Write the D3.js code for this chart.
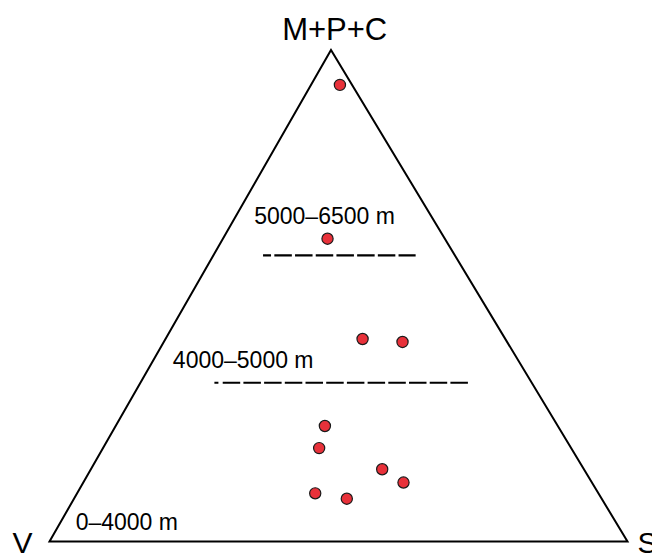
<!DOCTYPE html>
<html>
<head>
<meta charset="utf-8">
<script src="https://cdn.jsdelivr.net/npm/d3@7"></script>
<style>
  html, body { margin: 0; padding: 0; background: #ffffff; }
  svg { display: block; }
  text { font-family: "Liberation Sans", Arial, Helvetica, sans-serif; fill: #000; }
</style>
</head>
<body>
<script>
// ---- Data (ternary compositions, %) ----
const sampleV   = [2.1, 20.3, 24.7, 18.1, 40.3, 43.6, 34.9, 32.6, 49.0, 44.1];
const sampleS   = [5.0, 18.1, 34.1, 41.3, 36.2, 37.4, 50.4, 55.4, 41.2, 47.2];
const sampleMPC = [92.9, 61.6, 41.2, 40.6, 23.5, 19.0, 14.7, 12.0, 9.8, 8.7];

const apexLabels = ["V", "S", "M+P+C"];

// zone boundary lines: MPC level (%) and S extent (%) of each end
const boundaryMPC    = [58.2, 32.3];
const boundaryStartS = [8.6, 12.8];
const boundaryEndS   = [35.0, 56.8];

// zone labels with anchor composition (S %, MPC %)
const zoneLabels = ["5000–6500 m", "4000–5000 m", "0–4000 m"];
const zoneLabelS   = [4.0, 4.2, 3.4];
const zoneLabelMPC = [64.5, 35.2, 2.3];

// ---- Layout ----
const W = 652, H = 556;
const svg = d3.select("body").append("svg").attr("width", W).attr("height", H);

const padL = 49.5, padR = 627.5, baseY = 541.5, apexY = 50, apexX = 331;
const sScale = d3.scaleLinear().domain([0, 100]).range([padL, padR]);
const mScale = d3.scaleLinear().domain([0, 100]).range([baseY, apexY]);
const apexShift = (apexX - padL) / (padR - padL); // horizontal lean of apex

function project(s, m) {
  return [sScale(s + m * apexShift), mScale(m)];
}

// ---- Triangle ----
const corners = [project(0, 0), project(100, 0), project(0, 100)];
svg.append("path")
  .attr("d", d3.line()(corners) + "Z")
  .attr("fill", "none")
  .attr("stroke", "#000")
  .attr("stroke-width", 2)
  .attr("stroke-linejoin", "miter");

// ---- Zone boundaries ----
const firstDash = [[8, 3.3], [4, 4.3]];
boundaryMPC.forEach((m, i) => {
  const p0 = project(boundaryStartS[i], m);
  const p1 = project(boundaryEndS[i], m);
  const pattern = firstDash[i].slice();
  for (let k = 0; k < 20; k++) pattern.push(17.5, 3.2);
  svg.append("line")
    .attr("x1", p0[0]).attr("y1", p0[1])
    .attr("x2", p1[0]).attr("y2", p1[1])
    .attr("stroke", "#000")
    .attr("stroke-width", 2.2)
    .attr("stroke-dasharray", pattern.join(","));
});

// ---- Zone labels ----
zoneLabels.forEach((t, i) => {
  const p = project(zoneLabelS[i], zoneLabelMPC[i]);
  svg.append("text")
    .attr("x", p[0]).attr("y", p[1])
    .attr("font-size", 23)
    .text(t);
});

// ---- Apex labels ----
const vP = project(0, 0), sP = project(100, 0), mP = project(0, 100);
svg.append("text").attr("x", vP[0] - 17).attr("y", vP[1] + 11.5)
  .attr("text-anchor", "end").attr("font-size", 30).text(apexLabels[0]);
svg.append("text").attr("x", sP[0] + 10).attr("y", sP[1] + 11.5)
  .attr("text-anchor", "start").attr("font-size", 30).text(apexLabels[1]);
svg.append("text").attr("x", mP[0] + 3.7).attr("y", mP[1] - 10)
  .attr("text-anchor", "middle").attr("font-size", 31).text(apexLabels[2]);

// ---- Samples ----
const samples = sampleV.map((v, i) => {
  const t = v + sampleS[i] + sampleMPC[i];
  return { s: 100 * sampleS[i] / t, m: 100 * sampleMPC[i] / t };
});
svg.selectAll("circle.sample")
  .data(samples)
  .join("circle")
  .attr("class", "sample")
  .attr("cx", d => project(d.s, d.m)[0])
  .attr("cy", d => project(d.s, d.m)[1])
  .attr("r", 5.6)
  .attr("fill", "#e8313a")
  .attr("stroke", "#1a1a1a")
  .attr("stroke-width", 1.2);
</script>
</body>
</html>
